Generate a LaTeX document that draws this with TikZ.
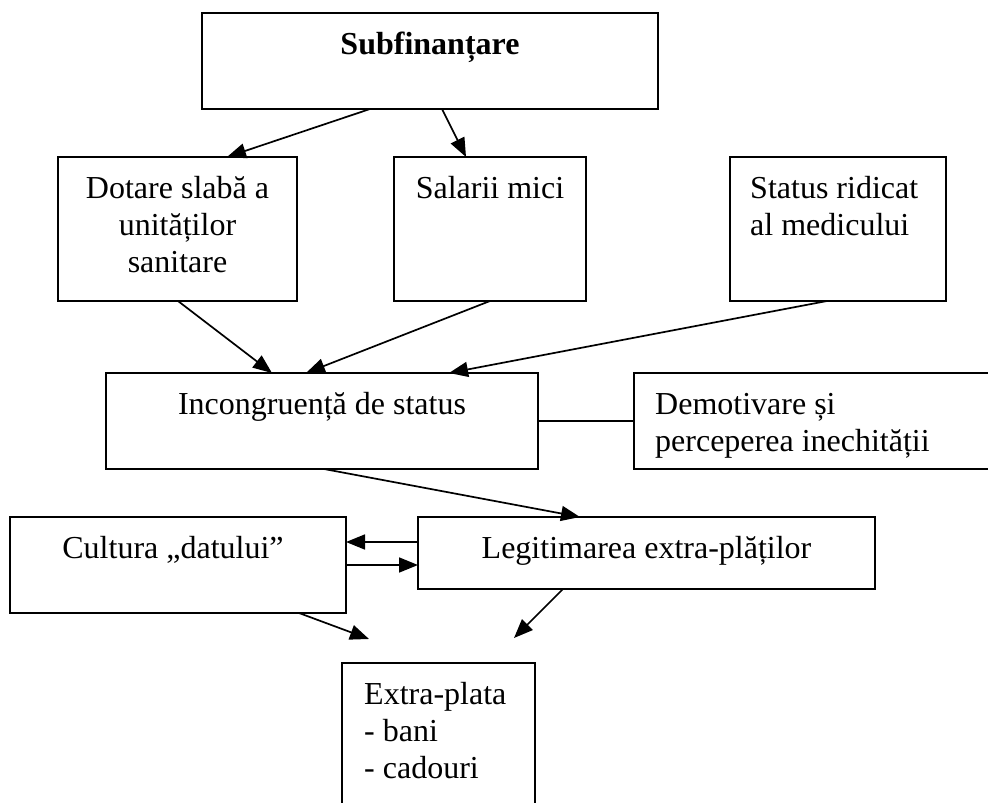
\documentclass[tikz,border=0pt]{standalone}
\usepackage{fontspec}
\setmainfont{Liberation Serif}
\usetikzlibrary{arrows.meta,calc}
\begin{document}
\begin{tikzpicture}[x=1pt,y=-1pt,
  box/.style={draw,line width=1.6pt,rectangle,anchor=north west,inner sep=0pt,outer sep=0pt},
  txt/.style={inner sep=0pt,font=\fontsize{32}{37}\selectfont},
  arr/.style={line width=1.7pt,-{Triangle[length=19pt,width=15pt]}},
  link/.style={line width=1.7pt}]
\clip (0,0) rectangle (988,803);
% boxes
\node[box,minimum width=456pt,minimum height=96pt] (sub) at (202,13) {};
\node[box,minimum width=239pt,minimum height=144pt] (dot) at (58,157) {};
\node[box,minimum width=192pt,minimum height=144pt] (sal) at (394,157) {};
\node[box,minimum width=216pt,minimum height=144pt] (sta) at (730,157) {};
\node[box,minimum width=432pt,minimum height=96pt] (inc) at (106,373) {};
\node[box,minimum width=380pt,minimum height=96pt] (dem) at (634,373) {};
\node[box,minimum width=336pt,minimum height=96pt] (cul) at (10,517) {};
\node[box,minimum width=457pt,minimum height=72pt] (leg) at (418,517) {};
\node[box,minimum width=193pt,minimum height=160pt] (ext) at (342,663) {};
% texts
\node[txt,anchor=north,align=center] (subt) at ($(sub.north)+(0,15)$) {\bfseries\strut Subfinanțare};
\node[txt,anchor=north,align=center] (dott) at ($(dot.north)+(0,15)$) {\strut Dotare slabă a\\unităților\\sanitare};
\node[txt,anchor=north,align=center] (salt) at ($(sal.north)+(0,15)$) {\strut Salarii mici};
\node[txt,anchor=north west,align=left] (stat) at ($(sta.north west)+(20,15)$) {\strut Status ridicat\\al medicului};
\node[txt,anchor=north,align=center] (inct) at ($(inc.north)+(0,15)$) {\strut Incongruență de status};
\node[txt,anchor=north west,align=left] (demt) at ($(dem.north west)+(21,15)$) {\strut Demotivare și\\perceperea inechității};
\node[txt,anchor=north,align=center] (cult) at ($(cul.north)+(-5,15)$) {\strut Cultura „datului”};
\node[txt,anchor=north,align=center] (legt) at ($(leg.north)+(0,15)$) {\strut Legitimarea extra-plăților};
\node[txt,anchor=north west,align=left] (extt) at ($(ext.north west)+(22,15)$) {\strut Extra-plata\\- bani\\- cadouri};
% free ends
\coordinate (c1) at (369,639);
\coordinate (c2) at (514,638);
% connectors
\draw[arr] ($(sub.south west)+(168,0)$) -- ($(dot.north west)+(169,0)$);
\draw[arr] ($(sub.south west)+(240,0)$) -- ($(sal.north west)+(72,0)$);
\draw[arr] ($(dot.south west)+(120,0)$) -- ($(inc.north west)+(166,0)$);
\draw[arr] ($(sal.south west)+(96,0)$) -- ($(inc.north west)+(200,0)$);
\draw[arr] ($(sta.south west)+(97,0)$) -- ($(inc.north west)+(343,0)$);
\draw[link] (inc.east) -- (dem.west);
\draw[arr] ($(inc.south west)+(218,0)$) -- ($(leg.north west)+(162,0)$);
\draw[arr] ($(leg.north west)+(0,25)$) -- ($(cul.north east)+(0,25)$);
\draw[arr] ($(cul.north east)+(0,48)$) -- ($(leg.north west)+(0,48)$);
\draw[arr] ($(cul.south west)+(289,0)$) -- (c1);
\draw[arr] ($(leg.south west)+(145,0)$) -- (c2);
\end{tikzpicture}
\end{document}
